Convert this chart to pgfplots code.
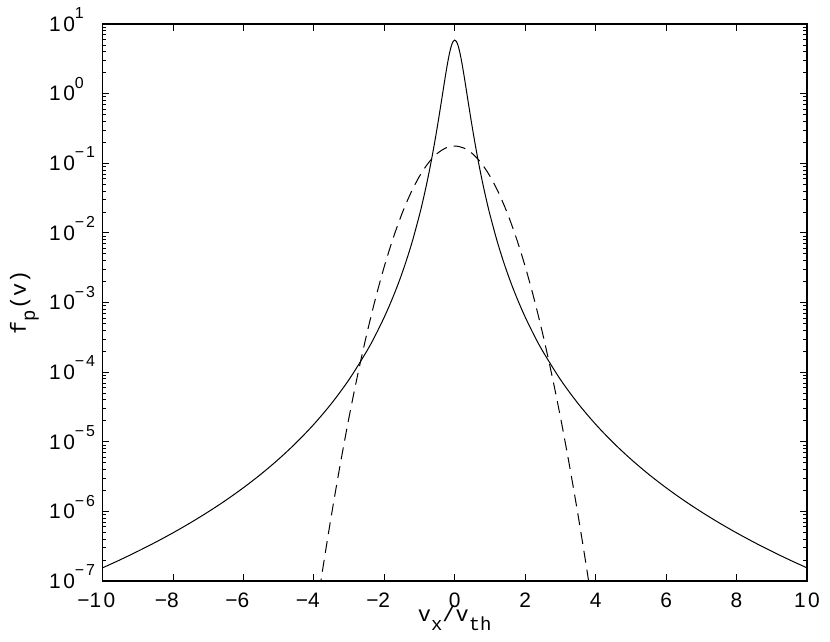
\documentclass[border=0pt]{standalone}
\usepackage{fontspec}
\usepackage{pgfplots}
\pgfplotsset{compat=1.18}
\setmainfont{Liberation Sans}
\newfontfamily\tickfont{Liberation Sans}[LetterSpace=12]
\newfontfamily\labfont{Liberation Mono}
\newcommand\tsup[1]{\raisebox{0.6em}{\fontsize{16}{16}\selectfont #1}}
\newcommand\lsub[1]{\raisebox{-0.4em}{\fontsize{19}{19}\selectfont #1}}

\begin{document}
\begin{tikzpicture}
\begin{axis}[
  scale only axis,
  width=704.5bp, height=557bp,
  ymode=log,
  xmin=-10, xmax=10,
  ymin=1e-7, ymax=10,
  axis line style={line width=1.2bp},
  every tick/.style={black, line width=0.8bp},
  major tick length=7bp,
  minor tick length=4bp,
  tick align=inside,
  xtick={-10,-8,...,10},
  xticklabels={\llap{−}10,\llap{−}8,\llap{−}6,\llap{−}4,\llap{−}2,0,2,4,6,8,10},
  ytick={1e-7,1e-6,1e-5,1e-4,1e-3,1e-2,1e-1,1,10},
  yticklabels={10\tsup{−7},10\tsup{−6},10\tsup{−5},10\tsup{−4},10\tsup{−3},10\tsup{−2},10\tsup{−1},10\tsup{0},10\tsup{1}},
  xticklabel style={font=\fontsize{21}{21}\selectfont\tickfont, anchor=base, yshift=-26bp},
  yticklabel style={font=\fontsize{21}{21}\selectfont\tickfont, anchor=base west, inner sep=0pt, xshift=-53.5bp, yshift=-7.3bp},
  every axis x label/.style={at={(axis description cs:0.5,-0.0736)}, anchor=base},
  every axis y label/.style={at={(axis description cs:-0.1086,0.5)}, rotate=90, anchor=base},
  xlabel={\fontsize{22}{22}\selectfont\labfont v\lsub{x}/v\lsub{th}},
  ylabel={\fontsize{22}{22}\selectfont\labfont f\lsub{p}(v)},
]
% solid curve
\addplot[black, line width=1bp, smooth] coordinates {
  (-10,1.544e-7) (-9.5,2.015e-7) (-9,2.669e-7) (-8.5,3.590e-7) (-8,4.916e-7)
  (-7.5,6.874e-7) (-7,9.833e-7) (-6.5,1.443e-6) (-6,2.186e-6) (-5.5,3.431e-6)
  (-5,5.623e-6) (-4.5,9.694e-6) (-4,1.781e-5) (-3.5,3.545e-5) (-3,7.829e-5)
  (-2.5,1.991e-4) (-2.25,3.402e-4) (-2,6.176e-4) (-1.8,1.050e-3)
  (-1.6,1.888e-3) (-1.4,3.650e-3) (-1.2,7.703e-3) (-1,1.822e-2) (-0.9,2.952e-2)
  (-0.8,4.982e-2) (-0.7,8.814e-2) (-0.6,0.1641) (-0.5,0.3221) (-0.4,0.6629)
  (-0.3,1.393) (-0.25,2.001) (-0.2,2.810) (-0.15,3.786) (-0.1,4.794)
  (-0.05,5.585) (0,5.888)
  (0.05,5.585) (0.1,4.794) (0.15,3.786) (0.2,2.810) (0.25,2.001)
  (0.3,1.393) (0.4,0.6629) (0.5,0.3221) (0.6,0.1641) (0.7,8.814e-2)
  (0.8,4.982e-2) (0.9,2.952e-2) (1,1.822e-2) (1.2,7.703e-3) (1.4,3.650e-3)
  (1.6,1.888e-3) (1.8,1.050e-3) (2,6.176e-4) (2.25,3.402e-4) (2.5,1.991e-4)
  (3,7.829e-5) (3.5,3.545e-5) (4,1.781e-5) (4.5,9.694e-6)
  (5,5.623e-6) (5.5,3.431e-6) (6,2.186e-6) (6.5,1.443e-6) (7,9.833e-7)
  (7.5,6.874e-7) (8,4.916e-7) (8.5,3.590e-7) (9,2.669e-7) (9.5,2.015e-7) (10,1.544e-7)
};
% dashed curve
\addplot[black, line width=1bp, smooth, dash pattern=on 12bp off 7bp] coordinates {
  (-4,2.11e-8) (-3.75,1.46e-7) (-3.5,8.87e-7) (-3.25,4.76e-6) (-3,2.26e-5)
  (-2.75,9.44e-5) (-2.5,3.49e-4) (-2.25,1.140e-3) (-2,3.29e-3) (-1.75,8.36e-3)
  (-1.5,1.879e-2) (-1.25,3.72e-2) (-1,6.52e-2) (-0.75,0.1009) (-0.5,0.1377)
  (-0.25,0.1660) (0,0.1766) (0.25,0.1660) (0.5,0.1377) (0.75,0.1009)
  (1,6.52e-2) (1.25,3.72e-2) (1.5,1.879e-2) (1.75,8.36e-3) (2,3.29e-3)
  (2.25,1.140e-3) (2.5,3.49e-4) (2.75,9.44e-5) (3,2.26e-5) (3.25,4.76e-6)
  (3.5,8.87e-7) (3.75,1.46e-7) (4,2.11e-8)
};
\end{axis}
\pgfresetboundingbox
\path ([xshift=-102.5bp,yshift=-61bp]current axis.south west) rectangle ([xshift=23bp,yshift=24bp]current axis.north east);
\end{tikzpicture}
\end{document}
